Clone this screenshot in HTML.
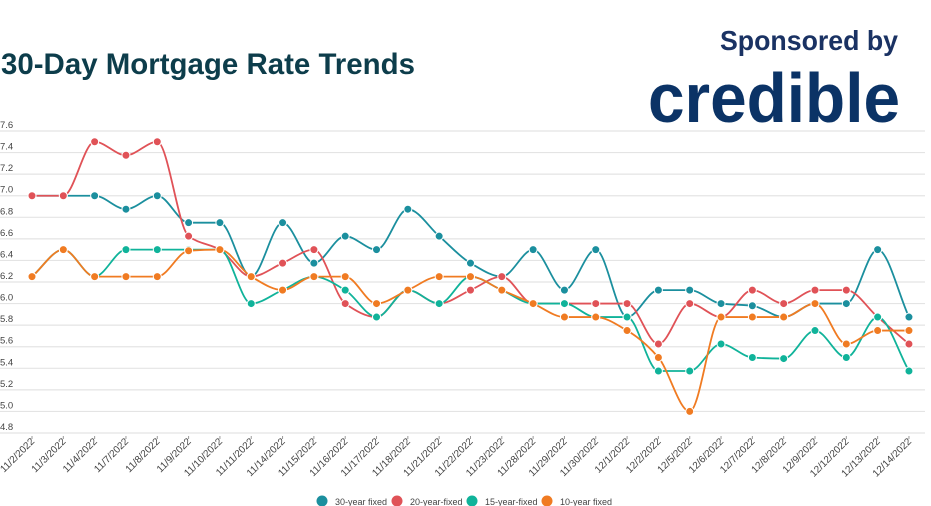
<!DOCTYPE html>
<html><head><meta charset="utf-8"><style>
html,body{margin:0;padding:0;background:#fff;width:931px;height:506px;overflow:hidden}
svg{display:block}
text{font-family:"Liberation Sans",sans-serif}
</style></head><body>
<svg id="s" width="931" height="506" viewBox="0 0 931 506">
<text x="1" y="74" font-size="29.5" font-weight="bold" fill="#0d3d4b" textLength="414" lengthAdjust="spacingAndGlyphs">30-Day Mortgage Rate Trends</text>
<text x="898" y="50" font-size="28" font-weight="bold" fill="#1a3263" text-anchor="end" textLength="178" lengthAdjust="spacingAndGlyphs">Sponsored by</text>
<text x="900" y="122" font-size="70" font-weight="bold" fill="#0b3366" text-anchor="end" textLength="252" lengthAdjust="spacingAndGlyphs">credible</text>
<g id="grid"></g><g id="lines"></g><g id="xl"></g>
<g font-size="9" fill="#444">
<circle cx="322" cy="501" r="5.5" fill="#1b8f9e"/><text x="335" y="505">30-year fixed</text>
<circle cx="397" cy="501" r="5.5" fill="#e05257"/><text x="410" y="505">20-year-fixed</text>
<circle cx="472" cy="501" r="5.5" fill="#10b39a"/><text x="485" y="505">15-year-fixed</text>
<circle cx="547" cy="501" r="5.5" fill="#f07b22"/><text x="560" y="505">10-year fixed</text>
</g>
</svg>
<script>
const NS="http://www.w3.org/2000/svg";
function el(t,a,p){const e=document.createElementNS(NS,t);for(const k in a)e.setAttribute(k,a[k]);p.appendChild(e);return e;}
const Y=v=>131+(7.6-v)*107.86;
const X=i=>32+i*31.32;
const grid=document.getElementById('grid');
for(let k=0;k<=14;k++){const v=7.6-k*0.2;const y=Y(v);
el('line',{x1:0,x2:925,y1:y,y2:y,stroke:'#e4e4e4','stroke-width':1.2},grid);
const t=el('text',{x:0,y:y-3,'font-size':9.5,fill:'#444'},grid);t.textContent=v.toFixed(1);}
const dates=["11/2","11/3","11/4","11/7","11/8","11/9","11/10","11/11","11/14","11/15","11/16","11/17","11/18","11/21","11/22","11/23","11/28","11/29","11/30","12/1","12/2","12/5","12/6","12/7","12/8","12/9","12/12","12/13","12/14"];
const xl=document.getElementById('xl');
dates.forEach((d,i)=>{const x=X(i);el('line',{x1:x,x2:x,y1:436,y2:439,stroke:'#999'},xl);
const t=el('text',{x:x+3,y:442,'font-size':10,fill:'#444','text-anchor':'end',transform:`rotate(-45 ${x+3} 442)`},xl);t.textContent=d+"/2022";});
const S=[
["#1b8f9e",[7,7,7,6.875,7,6.75,6.75,6.25,6.75,6.375,6.625,6.5,6.875,6.625,6.375,6.25,6.5,6.125,6.5,5.875,6.125,6.125,6,5.98,5.875,6,6,6.5,5.875]],
["#e05257",[7,7,7.5,7.375,7.5,6.625,6.5,6.25,6.375,6.5,6,5.875,6.125,6,6.125,6.25,6,6,6,6,5.625,6,5.875,6.125,6,6.125,6.125,5.875,5.625]],
["#10b39a",[6.25,6.5,6.25,6.5,6.5,6.5,6.5,6,6.125,6.25,6.125,5.875,6.125,6,6.25,6.125,6,6,5.875,5.875,5.375,5.375,5.625,5.5,5.49,5.75,5.5,5.875,5.375]],
["#f07b22",[6.25,6.5,6.25,6.25,6.25,6.49,6.5,6.25,6.125,6.25,6.25,6,6.125,6.25,6.25,6.125,6,5.875,5.875,5.75,5.5,5,5.875,5.875,5.875,6,5.625,5.75,5.75]]];
function mono(xs,ys){const n=xs.length,d=[],m=[];
for(let i=0;i<n-1;i++)d.push((ys[i+1]-ys[i])/(xs[i+1]-xs[i]));
m[0]=d[0];m[n-1]=d[n-2];
for(let i=1;i<n-1;i++){if(d[i-1]*d[i]<=0)m[i]=0;else{m[i]=2/(1/d[i-1]+1/d[i]);}}
let p=`M${xs[0]},${ys[0]}`;
for(let i=0;i<n-1;i++){const h=(xs[i+1]-xs[i])/3;p+=`C${xs[i]+h},${ys[i]+m[i]*h} ${xs[i+1]-h},${ys[i+1]-m[i+1]*h} ${xs[i+1]},${ys[i+1]}`;}
return p;}
const lines=document.getElementById('lines');
S.forEach(([c,v])=>{const xs=v.map((_,i)=>X(i)),ys=v.map(Y);
el('path',{d:mono(xs,ys),fill:'none',stroke:c,'stroke-width':1.8},lines);});
S.forEach(([c,v])=>{v.forEach((a,i)=>el('circle',{cx:X(i),cy:Y(a),r:4,fill:c,stroke:'#fff','stroke-width':1},lines));});
</script>
</body></html>
